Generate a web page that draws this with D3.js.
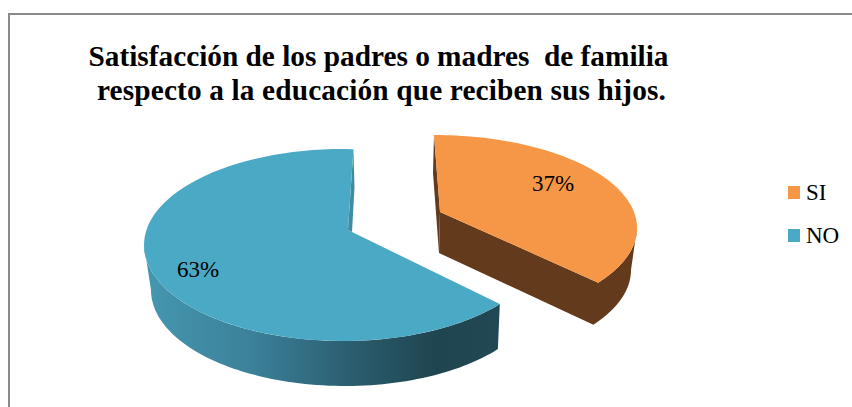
<!DOCTYPE html>
<html><head><meta charset="utf-8">
<style>html,body{margin:0;padding:0;background:#fff;overflow:hidden}svg{display:block}</style>
<script src="https://cdn.jsdelivr.net/npm/d3@7"></script></head>
<body><svg id="c" width="852" height="407"></svg>
<script>
const categories = ["SI", "NO"];
const values = [37, 63];
const labels = ["37%", "63%"];
const colors = ["#F59746", "#4AAAC5"];
const titleLines = ["Satisfacción de los padres o madres  de familia", "respecto a la educación que reciben sus hijos."];

const DEG = Math.PI / 180, W = 852, H = 407;
// perspective layout of each exploded slice
const layout = [
  { top:{cx:434,cy:228,rx:203,ry:93}, bot:{cx:434,cy:270,rx:197,ry:93},
    apex:[440,212], apexBot:[439,253], viewFrom:0, viewTo:126, label:[553,183],
    wall:"#643A1C", cut:"#643A1C", sliverMid:[433,173] },
  { top:{cx:343,cy:245,rx:199,ry:96}, bot:{cx:345,cy:290,rx:194,ry:96},
    apex:[352,232], apexInner:[348,230], viewFrom:128, viewTo:363, label:[198,269],
    wall:"url(#wallBlue)", cut:"#3E8CA4", sliverMid:[354.5,187] }
];

const svg = d3.select("#c");
const defs = svg.append("defs");
const grad = defs.append("linearGradient").attr("id","wallBlue")
  .attr("gradientUnits","userSpaceOnUse").attr("x1",145).attr("x2",500).attr("y1",0).attr("y2",0);
[[0,"#4597B0"],[0.3,"#3B8199"],[0.6,"#2A5B6C"],[0.82,"#1F4550"],[1,"#214854"]]
  .forEach(([o,c])=>grad.append("stop").attr("offset",o).attr("stop-color",c));

// frame
svg.append("path").attr("d", d3.line()([[W,14],[9,14],[9,H]]))
  .attr("fill","none").attr("stroke","#8a8a8a").attr("stroke-width",2);

// title
svg.append("g").selectAll("text").data(titleLines).join("text")
  .attr("y",(d,i)=>66+i*34)
  .attr("x",(d,i)=>[378.5,381.5][i])
  .attr("text-anchor","middle")
  .style("white-space","pre")
  .style("letter-spacing",(d,i)=>[0,0.15][i]+"px")
  .attr("font-family","'Liberation Serif'").attr("font-weight","bold")
  .attr("font-size",29.3).attr("fill","#000").text(d=>d);

const pie = d3.pie().sort(null).value(d=>d);
const arcs = pie(values);
const line = d3.line();
const onEllipse = (e,t)=>[e.cx+e.rx*Math.sin(t*DEG), e.cy-e.ry*Math.cos(t*DEG)];
const sample = (e,a,b)=>{ const n=80; return d3.range(n+1).map(i=>onEllipse(e,a+(b-a)*i/n)); };

[1,0].forEach(i=>{
  const g = layout[i], a = arcs[i];
  const span = d3.scaleLinear().domain([a.startAngle,a.endAngle]).range([g.viewFrom,g.viewTo]);
  const t0 = span(a.startAngle), t1 = span(a.endAngle);
  const gr = svg.append("g");
  // outer wall: only the front half of the rim is visible
  const wa = Math.max(t0,90), wb = Math.min(t1,270);
  if(i===0){
    // wall and radial cut share one colour, so they are one outline (no seam)
    const side = [g.apex].concat(sample(g.top,wb,wa), sample(g.bot,wa,wb), [g.apexBot]);
    gr.append("path").attr("d",line(side)+"Z").attr("fill",g.wall);
    gr.append("path").attr("d",line([onEllipse(g.top,t0),g.sliverMid,g.apexBot,g.apex])+"Z").attr("fill",g.cut);
  } else {
    const wallPts = sample(g.top,wa,wb).concat(sample(g.bot,wa,wb).reverse());
    gr.append("path").attr("d",line(wallPts)+"Z").attr("fill",g.wall);
    gr.append("path").attr("d",line([onEllipse(g.top,t1),g.sliverMid,g.apex,g.apexInner])+"Z").attr("fill",g.cut);
  }
  // top face
  const topPts = [g.apex].concat(sample(g.top,t0,t1));
  if(g.apexInner) topPts.push(g.apexInner);
  gr.append("path").attr("d",line(topPts)+"Z").attr("fill",colors[i]);
});

// data labels
svg.append("g").selectAll("text").data(labels).join("text")
  .attr("x",(d,i)=>layout[i].label[0]).attr("y",(d,i)=>layout[i].label[1]+7.5)
  .attr("text-anchor","middle").attr("font-family","'Liberation Serif'")
  .attr("font-size",23).attr("fill","#000").text(d=>d);

// legend
const legendY = d3.scalePoint().domain(categories).range([192.5,235.5]);
const lg = svg.append("g").selectAll("g").data(categories).join("g")
  .attr("transform",d=>`translate(788,${legendY(d)})`);
lg.append("rect").attr("x",0).attr("y",-6.5).attr("width",12).attr("height",13)
  .attr("fill",(d,i)=>colors[i]);
lg.append("text").attr("x",18).attr("y",7.5).attr("font-family","'Liberation Serif'")
  .attr("font-size",23).attr("fill","#000").text(d=>d);
</script></body></html>
